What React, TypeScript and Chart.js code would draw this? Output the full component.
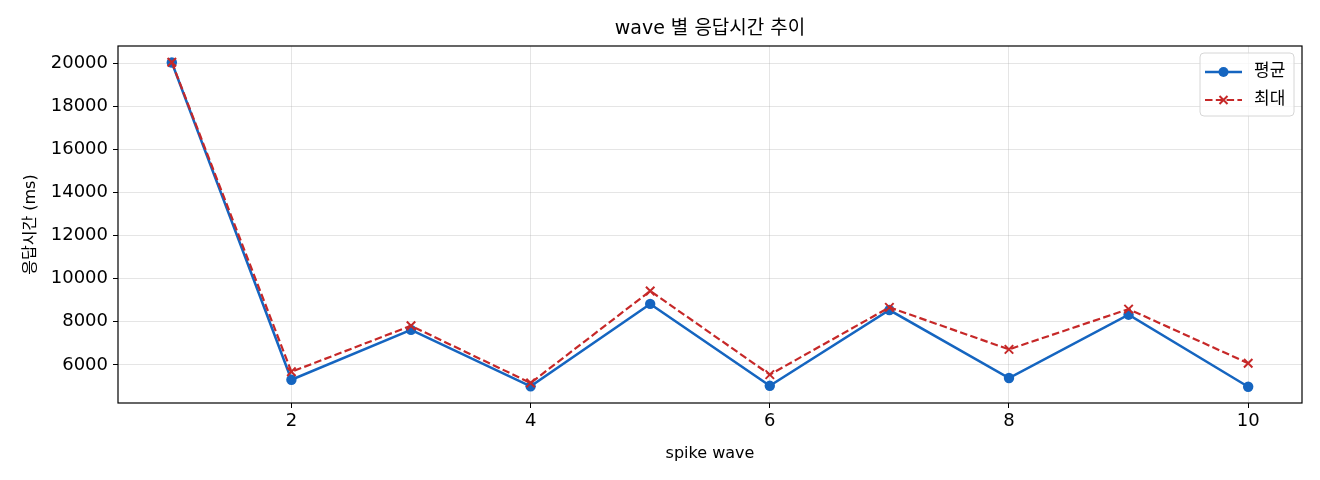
import React, { useEffect, useRef } from 'react';
import { Chart, registerables } from 'chart.js';

Chart.register(...registerables);

// values
const waves = [1, 2, 3, 4, 5, 6, 7, 8, 9, 10];
const avgMs = [20030, 5310, 7625, 5005, 8830, 5030, 8545, 5390, 8330, 4985];
const maxMs = [20045, 5680, 7815, 5160, 9430, 5550, 8670, 6720, 8590, 6075];
const xTicks = [2, 4, 6, 8, 10];
const yTicks = [6000, 8000, 10000, 12000, 14000, 16000, 18000, 20000];
const seriesLabels = ['평균', '최대'];
const chartTitle = 'wave 별 응답시간 추이';
const xTitle = 'spike wave';
const yTitle = '응답시간 (ms)';

const BLUE = '#1565c0';
const RED = '#c62828';
const FONT = '"DejaVu Sans", "Noto Sans CJK KR", sans-serif';
const GRID = 'rgba(176,176,176,0.33)';

// matplotlib-like 5% margins
const pad = (lo: number, hi: number) => [lo - (hi - lo) * 0.05, hi + (hi - lo) * 0.05];
const [xMin, xMax] = pad(Math.min(...waves), Math.max(...waves));
const [yMin, yMax] = pad(Math.min(...avgMs, ...maxMs), Math.max(...avgMs, ...maxMs));

const framePlugin = {
  id: 'frame',
  afterDraw(chart: any) {
    const { ctx, chartArea: a } = chart;
    ctx.save();
    // full box around plot
    ctx.strokeStyle = '#000';
    ctx.lineWidth = 1.2;
    ctx.strokeRect(a.left, a.top, a.right - a.left, a.bottom - a.top);

    // title centred over the plot area
    ctx.fillStyle = '#000';
    ctx.font = `19px ${FONT}`;
    ctx.textAlign = 'center';
    ctx.textBaseline = 'middle';
    ctx.fillText(chartTitle, (a.left + a.right) / 2, 29);

    // legend box, top right inside plot
    const bw = 94, bh = 63;
    const bx = a.right - 8 - bw, by = a.top + 7;
    ctx.beginPath();
    ctx.roundRect(bx, by, bw, bh, 4);
    ctx.fillStyle = 'rgba(255,255,255,0.8)';
    ctx.fill();
    ctx.strokeStyle = '#d6d6d6';
    ctx.lineWidth = 1;
    ctx.stroke();

    const rows = [
      { label: seriesLabels[0], color: BLUE, dash: [], marker: 'circle' },
      { label: seriesLabels[1], color: RED, dash: [7.5, 3.3], marker: 'x' },
    ];
    rows.forEach((r, i) => {
      const y = by + 19 + i * 28;
      const x0 = bx + 5, x1 = bx + 42, xc = (x0 + x1) / 2;
      ctx.strokeStyle = r.color;
      ctx.lineWidth = r.marker === 'circle' ? 2.5 : 2.2;
      ctx.setLineDash(r.dash);
      ctx.beginPath();
      ctx.moveTo(x0, y);
      ctx.lineTo(x1, y);
      ctx.stroke();
      ctx.setLineDash([]);
      if (r.marker === 'circle') {
        ctx.fillStyle = r.color;
        ctx.beginPath();
        ctx.arc(xc, y, 5, 0, Math.PI * 2);
        ctx.fill();
      } else {
        ctx.lineWidth = 2;
        ctx.beginPath();
        ctx.moveTo(xc - 4, y - 4);
        ctx.lineTo(xc + 4, y + 4);
        ctx.moveTo(xc + 4, y - 4);
        ctx.lineTo(xc - 4, y + 4);
        ctx.stroke();
      }
      ctx.fillStyle = '#000';
      ctx.font = `17px ${FONT}`;
      ctx.textAlign = 'left';
      ctx.textBaseline = 'middle';
      ctx.fillText(r.label, bx + 54, y);
    });
    ctx.restore();
  },
};

const App: React.FC = () => {
  const canvasRef = useRef<HTMLCanvasElement>(null);

  useEffect(() => {
    document.body.style.margin = '0';
    if (!canvasRef.current) return;
    const chart = new Chart(canvasRef.current, {
      type: 'line',
      data: {
        datasets: [
          {
            label: seriesLabels[0],
            data: waves.map((w, i) => ({ x: w, y: avgMs[i] })),
            borderColor: BLUE,
            backgroundColor: BLUE,
            borderWidth: 2.5,
            pointStyle: 'circle',
            pointRadius: 5.2,
            pointBorderWidth: 0,
            order: 1,
          },
          {
            label: seriesLabels[1],
            data: waves.map((w, i) => ({ x: w, y: maxMs[i] })),
            borderColor: RED,
            backgroundColor: RED,
            borderWidth: 2.2,
            borderDash: [7.5, 3.3],
            pointStyle: 'crossRot',
            pointRadius: 6,
            pointBorderWidth: 2,
            order: 0,
          },
        ],
      },
      options: {
        animation: false,
        responsive: false,
        maintainAspectRatio: false,
        layout: { padding: { top: 46, right: 18, left: 0, bottom: 0 } },
        plugins: {
          legend: { display: false },
          title: { display: false },
          tooltip: { enabled: false },
        },
        scales: {
          x: {
            type: 'linear',
            min: xMin,
            max: xMax,
            afterBuildTicks: (s: any) => { s.ticks = xTicks.map((v) => ({ value: v })); },
            afterFit: (s: any) => { s.height = 77; },
            border: { display: false },
            grid: { color: GRID, tickColor: '#000', tickLength: 5, lineWidth: 1 },
            ticks: {
              color: '#000',
              font: { family: FONT, size: 18 },
              padding: 3,
              maxRotation: 0,
              callback: (v: any) => String(v),
            },
            title: {
              display: true,
              text: xTitle,
              color: '#000',
              font: { family: FONT, size: 16 },
              padding: { top: 0, bottom: 17 },
            },
          },
          y: {
            type: 'linear',
            min: yMin,
            max: yMax,
            afterBuildTicks: (s: any) => { s.ticks = yTicks.map((v) => ({ value: v })); },
            afterFit: (s: any) => { s.width = 118; },
            border: { display: false },
            grid: { color: GRID, tickColor: '#000', tickLength: 5, lineWidth: 1 },
            ticks: {
              color: '#000',
              font: { family: FONT, size: 18 },
              padding: 5,
              callback: (v: any) => String(v),
            },
            title: {
              display: true,
              text: yTitle,
              color: '#000',
              font: { family: FONT, size: 16 },
              padding: { top: 21, bottom: 0 },
            },
          },
        },
      },
      plugins: [framePlugin],
    });
    return () => chart.destroy();
  }, []);

  return (
    <div style={{ width: 1320, height: 480, background: '#fff' }}>
      <canvas ref={canvasRef} width={1320} height={480} />
    </div>
  );
};

export default App;
